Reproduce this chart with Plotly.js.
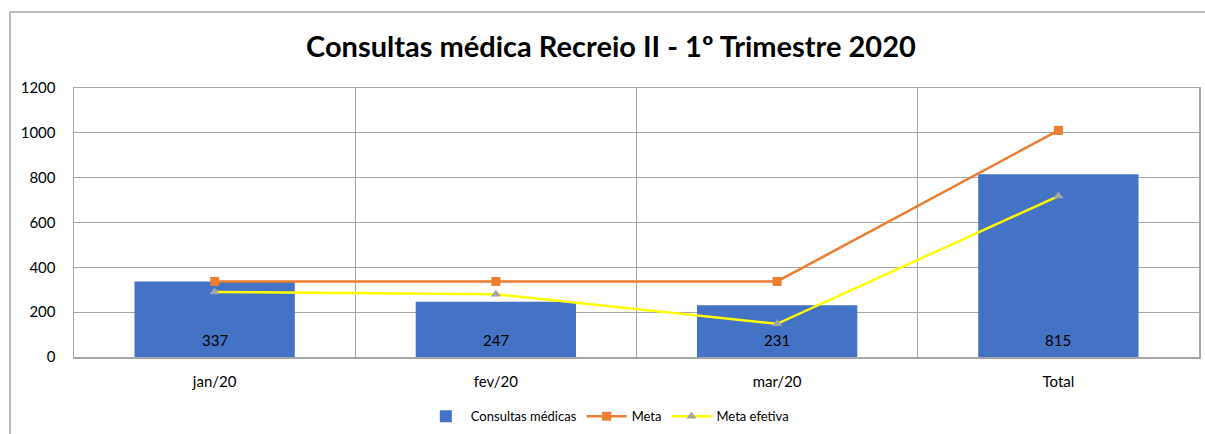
<!DOCTYPE html>
<html>
<head>
<meta charset="utf-8">
<script src="https://cdn.plot.ly/plotly-3.0.1.min.js"></script>
<style>html,body{margin:0;padding:0;background:#fff;}#chart{width:1205px;height:434px;}</style>
</head>
<body>
<div id="chart"></div>
<script>
const categories = ["jan/20", "fev/20", "mar/20", "Total"];
const consultas = [337, 247, 231, 815];
const meta = [337, 337, 337, 1011];
const metaEfetiva = [290, 280, 148, 718];
const yTicks = [0, 200, 400, 600, 800, 1000, 1200];

const FONT = "Lato, 'Open Sans', sans-serif";

const traces = [
  {
    type: "bar", name: "Consultas médicas", x: categories, y: consultas,
    marker: {color: "#4472C4"}, hoverinfo: "x+y"
  },
  {
    type: "scatter", mode: "lines+markers", name: "Meta", x: categories, y: meta,
    line: {color: "#ED7D31", width: 2.5},
    marker: {symbol: "square", size: 9, color: "#ED7D31"}
  },
  {
    type: "scatter", mode: "lines+markers", name: "Meta efetiva", x: categories, y: metaEfetiva,
    line: {color: "#FFFF00", width: 2.5},
    marker: {symbol: "triangle-up", size: 9, color: "#A5A5A5"}
  }
];

const barLabels = categories.map((c, i) => ({
  x: c, y: 0, xref: "x", yref: "y", text: String(consultas[i]),
  showarrow: false, yanchor: "middle", yshift: 17,
  font: {family: FONT, size: 15, color: "#000"}
}));

const layout = {
  width: 1205, height: 434,
  margin: {l: 74, r: 6, t: 88, b: 77, autoexpand: false},
  paper_bgcolor: "#fff", plot_bgcolor: "#fff",
  font: {family: FONT, size: 15, color: "#000"},
  title: {text: "<b>Consultas médica Recreio II - 1º Trimestre 2020</b>",
          font: {family: FONT, size: 29, color: "#000"},
          x: 0.507, xanchor: "center", y: 0.892, yanchor: "middle"},
  bargap: 0.43,
  showlegend: true,
  legend: {orientation: "h", xref: "container", yref: "container",
           x: 0.504, xanchor: "center", y: 0.041, yanchor: "middle", itemwidth: 40,
           font: {family: FONT, size: 13, color: "#000"}, traceorder: "normal"},
  xaxis: {
    type: "category", tickson: "boundaries", showgrid: true, gridcolor: "#A6A6A6", gridwidth: 1,
    showline: true, linecolor: "#A6A6A6", linewidth: 1.5, mirror: true,
    ticks: "", ticklabelstandoff: 10, tickfont: {family: FONT, size: 15, color: "#000"}
  },
  yaxis: {
    range: [0, 1200], tickvals: yTicks, ticktext: yTicks.map(String),
    showgrid: true, gridcolor: "#A6A6A6", gridwidth: 1,
    showline: true, linecolor: "#A6A6A6", linewidth: 1.5, mirror: true,
    zeroline: false, ticks: "", ticklabelstandoff: 14,
    tickfont: {family: FONT, size: 15, color: "#000"}
  },
  annotations: barLabels,
  shapes: [{
    type: "rect", xref: "paper", yref: "paper",
    x0: -0.0569, x1: 1.02, y0: -0.5, y1: 1.2825,
    line: {color: "#A6A6A6", width: 1.5}, fillcolor: "rgba(0,0,0,0)", layer: "below"
  }]
};

Plotly.newPlot("chart", traces, layout, {displayModeBar: false, staticPlot: true});
</script>
</body>
</html>
